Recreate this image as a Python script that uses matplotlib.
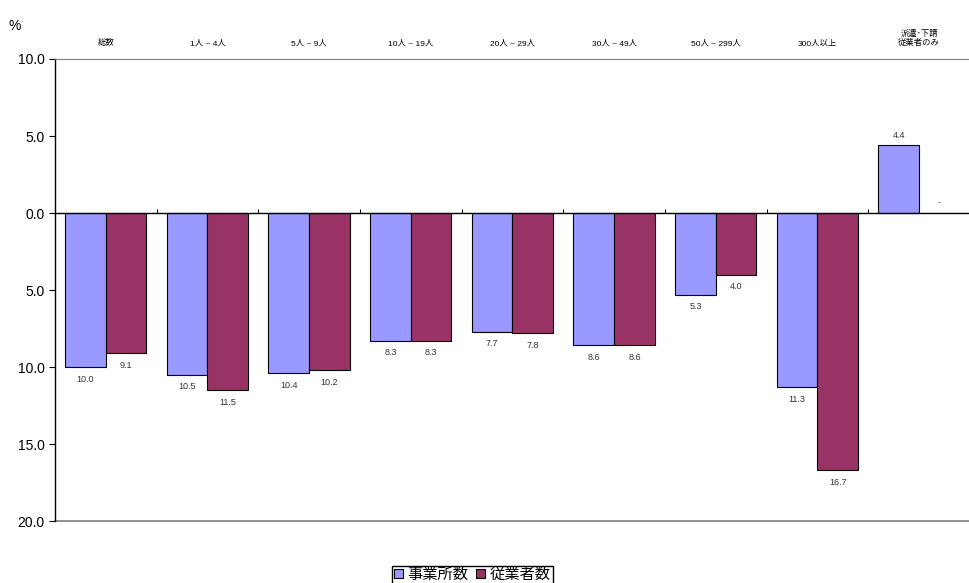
import numpy as np
import matplotlib
matplotlib.use('Agg')
from matplotlib import pyplot as plt
from matplotlib.ticker import FuncFormatter
import matplotlib.transforms as mtransforms

plt.rcParams['font.family'] = ['Liberation Sans', 'Noto Sans CJK JP']

categories = ['総数', '1人 ~ 4人', '5人 ~ 9人', '10人 ~ 19人', '20人 ~ 29人',
              '30人 ~ 49人', '50人 ~ 299人', '300人以上', '派遣･下請\n従業者のみ']
offices = [-10.0, -10.5, -10.4, -8.3, -7.7, -8.6, -5.3, -11.3, 4.4]    # 事業所数
workers = [-9.1, -11.5, -10.2, -8.3, -7.8, -8.6, -4.0, -16.7, np.nan]  # 従業者数
series_names = ['事業所数', '従業者数']
colors = ['#9999ff', '#993366']

fig = plt.figure(figsize=(9.7, 5.83), dpi=100)
ax = fig.add_axes([0.0567, 0.1063, 0.9433, 0.7925])

x = np.arange(len(categories))
w = 0.4
b1 = ax.bar(x - w/2, offices, w, color=colors[0], edgecolor='black', linewidth=0.8, label=series_names[0])
b2 = ax.bar(x + w/2, workers, w, color=colors[1], edgecolor='black', linewidth=0.8, label=series_names[1])

# value labels
for bars, vals in ((b1, offices), (b2, workers)):
    for rect, v in zip(bars, vals):
        cx = rect.get_x() + rect.get_width() / 2
        if np.isnan(v):
            ax.annotate('-', (cx, 0), xytext=(0, 5), textcoords='offset points',
                        ha='center', va='bottom', fontsize=6)
        elif v < 0:
            ax.annotate(f'{abs(v):.1f}', (cx, v), xytext=(0, -5.5), textcoords='offset points',
                        ha='center', va='top', fontsize=6.5, color='#333333')
        else:
            ax.annotate(f'{v:.1f}', (cx, v), xytext=(0, 4), textcoords='offset points',
                        ha='center', va='bottom', fontsize=6.5, color='#333333')

ax.set_xlim(-0.5, len(categories) - 0.5)
ax.set_ylim(-20, 10)
ax.set_yticks(np.arange(-20, 11, 5))
ax.yaxis.set_major_formatter(FuncFormatter(lambda v, p: f'{abs(v):.1f}'))
ax.tick_params(axis='y', length=4, labelsize=10, direction='out')

# zero line with small up ticks between groups
ax.spines['bottom'].set_position(('data', 0))
ax.spines['bottom'].set_linewidth(1.0)
ax.set_xticks(np.arange(0.5, len(categories) - 0.5, 1))
ax.set_xticklabels([])
ax.tick_params(axis='x', direction='in', length=3, width=0.8)
ax.spines['right'].set_visible(False)
ax.spines['top'].set_color('#808080')
ax.spines['left'].set_linewidth(1.0)
ax.axhline(-20, color='#808080', linewidth=1.2, clip_on=False)

# category labels on top
trans = mtransforms.blended_transform_factory(ax.transData, ax.transAxes)
for i, c in enumerate(categories):
    ax.text(i, 1.025, c, transform=trans, ha='center', va='bottom', fontsize=6)

fig.text(0.009, 0.955, '%', fontsize=10, ha='left', va='center')

fig.legend(loc='upper center', bbox_to_anchor=(0.487, 0.03), ncol=2, fontsize=11,
           frameon=True, fancybox=False, edgecolor='black', framealpha=1,
           handlelength=0.6, handleheight=0.6, handletextpad=0.3, columnspacing=0.5,
           borderpad=0.15, borderaxespad=0)

fig.savefig('out.png', dpi=100)
